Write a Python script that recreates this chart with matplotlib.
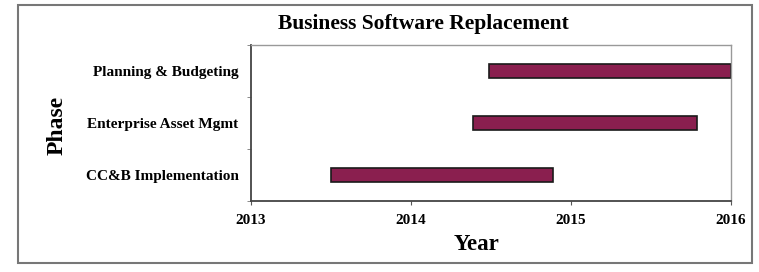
import matplotlib
matplotlib.use("Agg")
import matplotlib.pyplot as plt
from matplotlib.patches import Rectangle

phases = ["CC&B Implementation", "Enterprise Asset Mgmt", "Planning & Budgeting"]
starts = [2013.5, 2014.39, 2014.49]
ends = [2014.89, 2015.79, 2016.0]
xticks = [2013, 2014, 2015, 2016]

plt.rcParams['font.family'] = ['Liberation Serif', 'DejaVu Serif']

fig = plt.figure(figsize=(7.59, 2.72), dpi=100)
W, H = 759, 272
ax = fig.add_axes([251 / W, 1 - 201 / H, (731 - 251) / W, (201 - 45) / H])

ypos = list(range(len(phases)))
widths = [e - s for s, e in zip(starts, ends)]
ax.barh(ypos, widths, left=starts, height=0.27, color="#8a1f4f",
        edgecolor="#1a1a1a", linewidth=1.2)

ax.set_xlim(2013, 2016)
ax.set_ylim(-0.5, 2.5)
ax.set_xticks(xticks)
ax.set_xticklabels([str(t) for t in xticks], fontsize=11, fontweight="bold")
ax.set_yticks(ypos)
ax.set_yticklabels(phases, fontsize=11, fontweight="bold")
ax.tick_params(axis="y", length=0, pad=9)
ax.tick_params(axis="x", length=3, direction="out", pad=6, color="#555555")
ax.set_yticks([-0.5, 0.5, 1.5, 2.5], minor=True)
ax.tick_params(axis="y", which="minor", length=3, color="#777777")

for s in ["left", "bottom"]:
    ax.spines[s].set_color("#444444")
    ax.spines[s].set_linewidth(1.3)
for s in ["top", "right"]:
    ax.spines[s].set_color("#999999")
    ax.spines[s].set_linewidth(1.0)

fig.text(423 / W, 1 - 24 / H, "Business Software Replacement", ha="center", va="center",
         fontsize=15.5, fontweight="bold")
fig.text(57 / W, 1 - 125 / H, "Phase", ha="center", va="center", rotation=90,
         fontsize=17, fontweight="bold")
fig.text(476 / W, 1 - 244 / H, "Year", ha="center", va="center",
         fontsize=16.5, fontweight="bold")

fig.patches.append(Rectangle((18 / W, 1 - 263 / H), (752 - 18) / W, (263 - 5) / H,
                             transform=fig.transFigure, fill=False,
                             edgecolor="#777777", linewidth=1.5))

fig.savefig("out.png", dpi=100)
